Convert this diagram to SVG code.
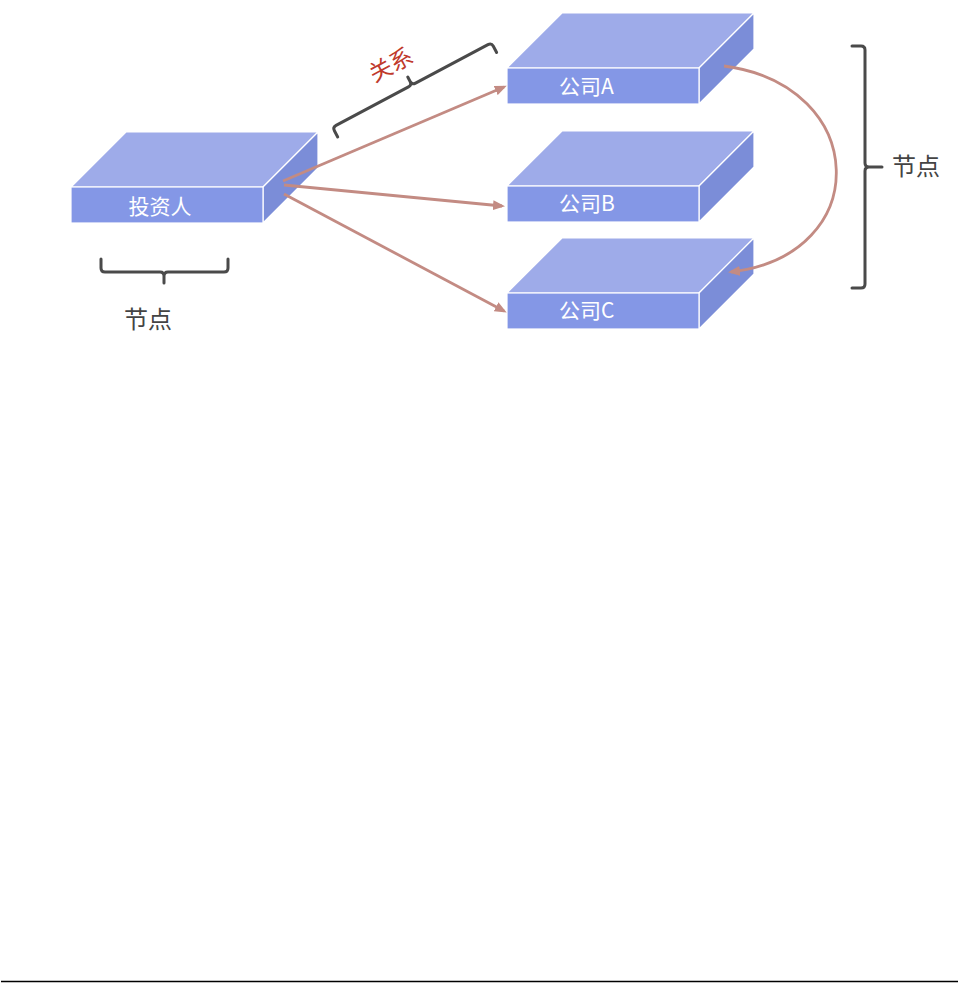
<svg xmlns="http://www.w3.org/2000/svg" width="965" height="983" viewBox="0 0 965 983">
<style>
.top{fill:#9eabe9;stroke:#ffffff;stroke-width:1.2}
.front{fill:#8497e6;stroke:#ffffff;stroke-width:1.2}
.side{fill:#7b8dd8;stroke:#ffffff;stroke-width:1.2}
.lbl{font-family:"Noto Sans CJK SC","Noto Sans",sans-serif;fill:#ffffff;font-size:21px}
.note{font-family:"Noto Sans CJK SC","Noto Sans",sans-serif;fill:#444444;font-size:24px}
.brace{fill:none;stroke:#4a4a4a;stroke-width:3;stroke-linecap:round;stroke-linejoin:round}
.conn{fill:none;stroke:#c38b83;stroke-width:2.8}
</style>
<defs>
<marker id="ah" markerWidth="12" markerHeight="10" refX="9" refY="5" orient="auto" markerUnits="userSpaceOnUse">
<path d="M0,0 L12,5 L0,10 Z" fill="#c38b83"/>
</marker>
</defs>
<rect width="965" height="983" fill="#ffffff"/>
<g id="investor">
<polygon class="top" points="71,187 126,132 318,132 263,187"/>
<polygon class="side" points="263,187 318,132 318,168 263,223"/>
<rect class="front" x="71" y="187" width="192" height="36"/>
<text class="lbl" x="160" y="214" text-anchor="middle">投资人</text>
</g>
<g id="companyA">
<polygon class="top" points="507,68 562,13 754,13 699,68"/>
<polygon class="side" points="699,68 754,13 754,49 699,104"/>
<rect class="front" x="507" y="68" width="192" height="36"/>
<text class="lbl" x="559" y="94">公司A</text>
</g>
<g id="companyB">
<polygon class="top" points="507,186 562,131 754,131 699,186"/>
<polygon class="side" points="699,186 754,131 754,167 699,222"/>
<rect class="front" x="507" y="186" width="192" height="36"/>
<text class="lbl" x="559" y="211">公司B</text>
</g>
<g id="companyC">
<polygon class="top" points="507,293 562,238 754,238 699,293"/>
<polygon class="side" points="699,293 754,238 754,274 699,329"/>
<rect class="front" x="507" y="293" width="192" height="36"/>
<text class="lbl" x="559" y="318">公司C</text>
</g>
<g id="connectors">
<path class="conn" d="M283,181 L504,87" marker-end="url(#ah)"/>
<path class="conn" d="M284,185 L502,206" marker-end="url(#ah)"/>
<path class="conn" d="M284,194 L504,311" marker-end="url(#ah)"/>
<path class="conn" d="M724,66 C870,85 875,255 731,272" marker-end="url(#ah)"/>
</g>
<g id="relation-brace">
<g transform="translate(412,85) rotate(-28)">
<path class="brace" d="M-90,11 L-90,4 Q-90,0 -86,0 L-4,0 Q0,0 0,-4 L0,-9 M0,-4 Q0,0 4,0 L86,0 Q90,0 90,4 L90,11"/>
</g>
<text x="391" y="73" transform="rotate(-28 391 65)" text-anchor="middle" font-family="'Noto Sans CJK SC','Noto Sans',sans-serif" font-size="23" fill="#c0392b">关系</text>
</g>
<g id="node-brace-left">
<path class="brace" d="M101,259 L101,268 Q101,272 105,272 L160,272 Q164,272 164,276 L164,283 M164,276 Q164,272 168,272 L224,272 Q228,272 228,268 L228,259"/>
<text class="note" x="148" y="328" text-anchor="middle">节点</text>
</g>
<g id="node-brace-right">
<path class="brace" d="M852,46 L861,46 Q865,46 865,50 L865,163 Q865,167 869,167 L882,167 M869,167 Q865,167 865,171 L865,284 Q865,288 861,288 L852,288"/>
<text class="note" x="892" y="175">节点</text>
</g>
<line x1="1" y1="981.5" x2="958" y2="981.5" stroke="#000000" stroke-width="1.5"/>
</svg>
